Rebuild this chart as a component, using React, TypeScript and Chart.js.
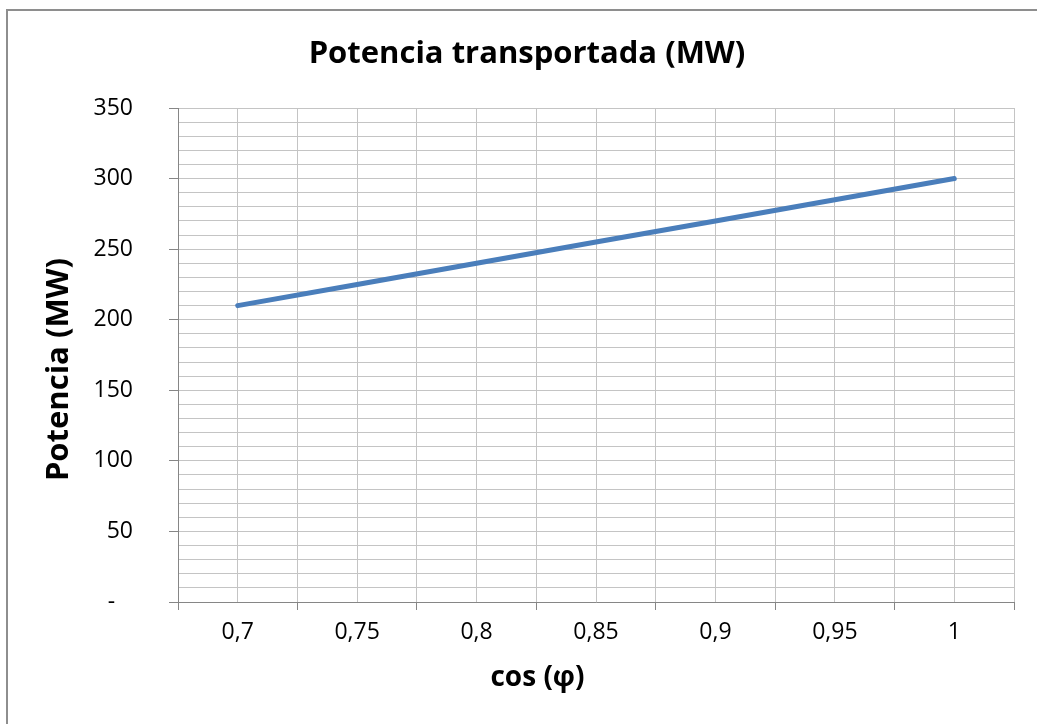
import { useEffect, useRef } from 'react';
import { Chart, registerables } from 'chart.js';

Chart.register(...registerables);

// ---- data ----
const cosPhi = [0.7, 0.75, 0.8, 0.85, 0.9, 0.95, 1];
const potenciaMW = [210, 225, 240, 255, 270, 285, 300];
const xTickLabels = ['0,7', '0,75', '0,8', '0,85', '0,9', '0,95', '1'];
const yTickLabels = ['-   ', '50', '100', '150', '200', '250', '300', '350'];
const chartTitle = 'Potencia transportada (MW)';
const xAxisTitle = 'cos (φ)';
const yAxisTitle = 'Potencia (MW)';

const FONT = '"Open Sans"';
const AXIS_COLOR = '#868686';
const GRID_COLOR = '#c4c4c4';

const titlesPlugin = {
  id: 'excelTitles',
  afterDraw(chart: any) {
    const ctx = chart.ctx as CanvasRenderingContext2D;
    ctx.save();
    ctx.fillStyle = '#000';
    ctx.textAlign = 'center';
    ctx.textBaseline = 'alphabetic';
    ctx.font = `bold 31px ${FONT}`;
    ctx.fillText(chartTitle, 527, 63);
    ctx.font = `bold 28px ${FONT}`;
    ctx.fillText(xAxisTitle, 537.5, 686);
    ctx.font = `bold 31px ${FONT}`;
    ctx.translate(68, 369.5);
    ctx.rotate(-Math.PI / 2);
    ctx.fillText(yAxisTitle, 0, 0);
    ctx.restore();
  },
};

export default function App() {
  const canvasRef = useRef<HTMLCanvasElement | null>(null);

  useEffect(() => {
    const canvas = canvasRef.current;
    if (!canvas) return;
    const chart = new Chart(canvas, {
      type: 'line',
      data: {
        datasets: [
          {
            label: chartTitle,
            data: cosPhi.map((c, i) => ({ x: c, y: potenciaMW[i] })),
            borderColor: '#4a7ebb',
            backgroundColor: '#4a7ebb',
            borderWidth: 5,
            pointRadius: 0,
            tension: 0,
            borderCapStyle: 'round',
            borderJoinStyle: 'round',
          },
        ],
      },
      options: {
        animation: false,
        responsive: false,
        maintainAspectRatio: false,
        layout: { padding: { left: 0, right: 23, top: 108, bottom: 0 } },
        plugins: {
          legend: { display: false },
          tooltip: { enabled: false },
          title: { display: false },
        },
        scales: {
          x: {
            type: 'linear',
            min: 0.675,
            max: 1.025,
            afterFit: (s: any) => {
              s.height = 122;
            },
            ticks: {
              stepSize: 0.025,
              autoSkip: false,
              maxRotation: 0,
              minRotation: 0,
              padding: 9,
              color: '#000',
              font: { family: FONT, size: 23 },
              callback: (v: any) => {
                const m = Math.round(Number(v) * 1000);
                if (m % 50 !== 0) return '';
                const idx = Math.round((m - 700) / 50);
                return xTickLabels[idx] ?? '';
              },
            },
            grid: {
              color: GRID_COLOR,
              lineWidth: 1,
              tickLength: 8,
              tickColor: (ctx: any) => {
                const m = Math.round(Number(ctx.tick?.value) * 1000);
                return m % 50 === 25 ? AXIS_COLOR : 'rgba(0,0,0,0)';
              },
            },
            border: { color: AXIS_COLOR, width: 1 },
          },
          y: {
            type: 'linear',
            min: 0,
            max: 350,
            afterFit: (s: any) => {
              s.width = 178;
            },
            ticks: {
              stepSize: 10,
              autoSkip: false,
              padding: 36,
              color: '#000',
              font: { family: FONT, size: 23 },
              callback: (v: any) => {
                const n = Math.round(Number(v));
                if (n % 50 !== 0) return '';
                return yTickLabels[n / 50] ?? '';
              },
            },
            grid: {
              color: GRID_COLOR,
              lineWidth: 1,
              tickLength: 9,
              tickColor: (ctx: any) => {
                const n = Math.round(Number(ctx.tick?.value));
                return n % 50 === 0 ? AXIS_COLOR : 'rgba(0,0,0,0)';
              },
            },
            border: { color: AXIS_COLOR, width: 1 },
          },
        },
      },
      plugins: [titlesPlugin],
    } as any);
    return () => chart.destroy();
  }, []);

  return (
    <div
      style={{
        position: 'fixed',
        left: 0,
        top: 0,
        width: 1037,
        height: 724,
        overflow: 'hidden',
        background: '#fff',
      }}
    >
      <div
        style={{
          position: 'absolute',
          left: 6,
          top: 9,
          width: 1100,
          height: 800,
          border: '2px solid #8e8e8e',
          boxSizing: 'border-box',
        }}
      />
      <canvas
        ref={canvasRef}
        width={1037}
        height={724}
        style={{ position: 'absolute', left: 0, top: 0, width: 1037, height: 724 }}
      />
    </div>
  );
}
